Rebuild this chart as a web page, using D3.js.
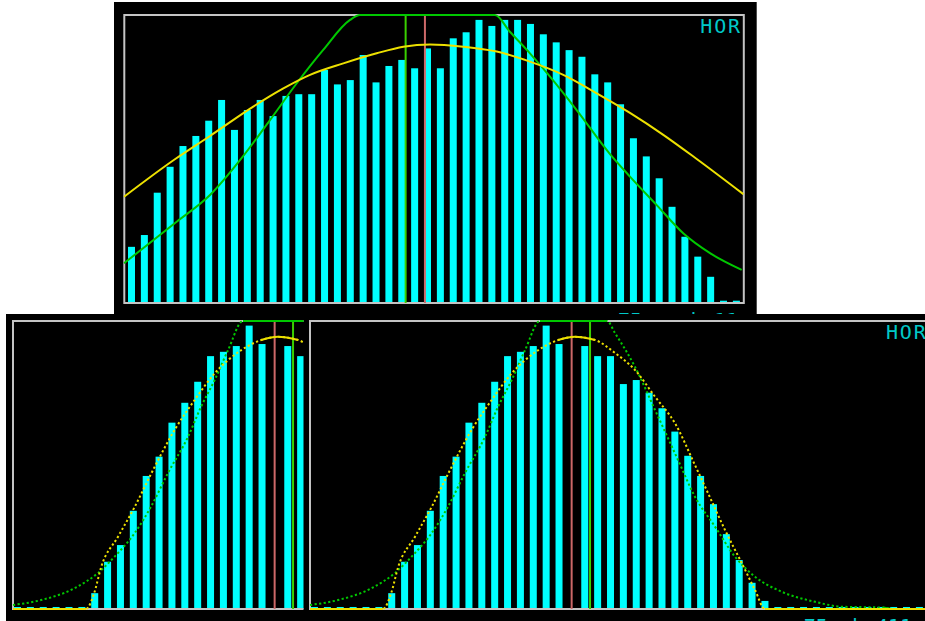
<!DOCTYPE html>
<html><head><meta charset="utf-8">
<script src="https://cdn.jsdelivr.net/npm/d3@7"></script>
<style>html,body{margin:0;padding:0;background:#fff;overflow:hidden}</style>
</head><body><svg id="c" width="925" height="621"></svg>
<script>
// ---------- data ----------
const yDomain = [0, 100];
const axisLabel = "HOR";
const topFooter = "75 mm k 11";
const bottomFooter = "75 ak 411";

const topBars = [19.5, 23.6, 38.3, 47.3, 54.5, 58.0, 63.3, 70.5, 60.1, 67.0, 70.5, 64.9,
  71.9, 72.5, 72.5, 80.9, 75.9, 77.4, 86.1, 76.6, 82.3, 84.4, 81.5, 88.4,
  81.5, 91.9, 94.0, 98.3, 96.2, 98.3, 98.3, 96.9, 93.3, 90.5, 87.8, 85.5,
  79.4, 76.6, 69.0, 57.2, 50.9, 43.3, 33.4, 23.0, 16.1, 9.1, 0.8, 0.8];

const bottomBars = [0.7, 0.7, 0.7, 0.7, 0.7, 0.7, 5.5, 16.4, 22.2, 34.1, 46.2, 52.9,
  64.7, 71.6, 78.9, 87.8, 89.3, 91.3, 98.4, 92.0, 0, 91.3, 87.8, 87.8,
  78.1, 79.5, 75.1, 69.7, 61.6, 53.2, 46.2, 36.4, 26.0, 17.0, 9.1, 2.8,
  0.7, 0.7, 0.7, 0.7, 0.7, 0.7, 0.7, 0.7, 0.7, 0.7, 0.7, 0.7];

const topYellowBins = [-0.58, 3.40, 6.10, 9.46, 11.80, 13.87, 16.46, 19.05, 21.12, 23.2,
  25.78, 28.38, 30.96, 33.55, 36.15, 38.73, 41.32, 43.92, 47.54];
const topYellowVals = [36.9, 50.0, 58.0, 68.2, 74.5, 79.2, 83.2, 86.7, 89.0, 89.8,
  89.0, 87.3, 83.8, 79.2, 72.8, 66.0, 58.4, 50.0, 37.8];

const topGreenBins = [-0.58, 3.51, 6.10, 8.66, 10.76, 12.84, 14.88, 16.98, 17.75, 20.5,
  23.0, 25.5, 28.24, 29.4, 30.96, 32.52, 34.59, 37.18, 38.73, 40.81, 42.87, 44.95, 47.41];
const topGreenVals = [13.8, 28.2, 37.5, 50.9, 63.5, 76.3, 87.8, 98.3, 100.5, 110,
  113, 110, 100.5, 94.2, 86.7, 78.6, 67.0, 51.7, 43.9, 34.0, 24.2, 17.3, 11.5];

const bottomYellowBins = [-0.35, 5.32, 5.95, 6.51, 7.81, 9.11, 10.40, 12.21, 13.77, 15.32,
  17.39, 18.94, 20.24, 21.80, 23.35, 24.90, 26.46, 28.01, 29.56, 30.57, 31.9, 33.19,
  34.23, 35.0, 47.6];
const bottomYellowVals = [0, 0, 5.4, 14.7, 25.1, 35.5, 47.1, 62.2, 72.6, 81.8,
  89.9, 93.4, 94.5, 93.4, 88.9, 83.0, 73.7, 64.5, 50.0, 40.3, 27.4, 16.0,
  6.6, 0, 0];

const bottomGreenBins = [-0.35, 1.83, 4.47, 6.25, 7.55, 9.11, 10.37, 11.69, 13.25, 14.26,
  15.32, 16.36, 17.52, 19.0, 20.4, 21.8, 22.73, 23.35, 24.90, 26.46, 28.25, 29.56,
  31.12, 32.67, 34.23, 36.3, 38.9, 40.96, 44.17, 44.9, 47.6];
const bottomGreenVals = [1.4, 3.1, 7.3, 12.5, 18.2, 26.4, 35.5, 47.2, 59.8, 70.2,
  79.5, 89.9, 100.3, 110, 113, 110, 100.5, 95.8, 84.1, 69.1, 51.7, 39.0,
  28.6, 18.2, 11.2, 6.0, 2.5, 0.8, 0.5, 0, 0];

// marker positions (in bin units): [green line, red line]
const topMarkerBins = [21.3, 22.8];
const bottomMarkerBins = [21.41, 19.98];

// ---------- layout ----------
const STEP = 12.87, BW = 7, W = 619.5, H = 288;
const svg = d3.select("#c");
svg.append("rect").attr("width", 925).attr("height", 621).attr("fill", "#fff");
const defs = svg.append("defs");

// black screenshot panels
svg.append("rect").attr("x", 114).attr("y", 2).attr("width", 642.7).attr("height", 312).attr("fill", "#000");
svg.append("rect").attr("x", 6).attr("y", 314).attr("width", 919).attr("height", 307).attr("fill", "#000");

const pts = (bins, vals) => d3.zip(bins, vals).map(([b, v]) => ({b, v}));

function drawChart(o) {
  defs.append("clipPath").attr("id", o.id + "-clip").append("rect")
    .attr("x", o.clip[0]).attr("y", o.clip[1]).attr("width", o.clip[2]).attr("height", o.clip[3]);
  defs.append("clipPath").attr("id", o.id + "-plot").append("rect")
    .attr("x", o.fx - 1).attr("y", o.fy - 1.5).attr("width", W + 2).attr("height", H + 3);

  const g = svg.append("g").attr("clip-path", `url(#${o.id}-clip)`);
  const n = o.bars.length;
  const x0 = o.fx + o.barOff;
  const xb = d3.scaleBand().domain(d3.range(n))
    .range([x0, x0 + (n - 1) * STEP + BW]).paddingInner(1 - BW / STEP).paddingOuter(0);
  const y = d3.scaleLinear().domain(yDomain).range([o.fy + H, o.fy]).clamp(true);
  const xc = d3.scaleLinear().domain([0, n - 1])
    .range([xb(0) + xb.bandwidth() / 2, xb(n - 1) + xb.bandwidth() / 2]);

  g.append("g").selectAll("rect").data(o.bars).join("rect")
    .attr("x", (d, i) => xb(i)).attr("y", d => y(d))
    .attr("width", xb.bandwidth()).attr("height", d => y(0) - y(d))
    .attr("fill", "#00ffff");

  g.append("rect").attr("x", o.fx).attr("y", o.fy).attr("width", W).attr("height", H)
    .attr("fill", "none").attr("stroke", "#c4c4c4").attr("stroke-width", 2);

  const [gm, rm] = o.markers;
  g.append("line").attr("x1", xc(gm)).attr("x2", xc(gm)).attr("y1", y(yDomain[1])).attr("y2", y(0))
    .attr("stroke", "#3ad000").attr("stroke-width", 2);
  g.append("line").attr("x1", xc(rm)).attr("x2", xc(rm)).attr("y1", y(yDomain[1])).attr("y2", y(0))
    .attr("stroke", "#cc6868").attr("stroke-width", 2);

  const pg = g.append("g").attr("clip-path", `url(#${o.id}-plot)`);
  const line = d3.line().x(d => xc(d.b)).y(d => y(d.v)).curve(d3.curveMonotoneX);

  const curves = [
    {data: o.green, color: "#00c800", solid: d => d.v >= 100 || d.v <= 0.5},
    {data: o.yellow, color: "#ece000", solid: d => d.v <= 0 || d.v >= 93}
  ];
  curves.forEach(c => {
    if (!o.dotted) {
      pg.append("path").attr("d", line(c.data)).attr("fill", "none")
        .attr("stroke", c.color).attr("stroke-width", 2);
    } else {
      pg.append("path").attr("d", line(c.data)).attr("fill", "none")
        .attr("stroke", c.color).attr("stroke-width", 2).attr("stroke-dasharray", "2.2,2.4");
      pg.append("path").attr("d", line.defined(c.solid)(c.data)).attr("fill", "none")
        .attr("stroke", c.color).attr("stroke-width", 2);
      line.defined(() => true);
    }
  });

  if (o.labels) {
    g.append("text").attr("x", o.fx + 576).attr("y", o.fy + 17.6)
      .attr("font-family", "DejaVu Sans Mono").attr("font-size", 20).attr("letter-spacing", 1.8)
      .attr("fill", "#00c8c8").text(axisLabel);
    g.append("text").attr("x", o.fx + 493.7).attr("y", o.fy + H + 23.6)
      .attr("font-family", "DejaVu Sans Mono").attr("font-size", 20)
      .attr("fill", "#00c8c8").text(o.footer);
  }
}

drawChart({id: "top", fx: 124.3, fy: 15, barOff: 3.7, bars: topBars,
  yellow: pts(topYellowBins, topYellowVals), green: pts(topGreenBins, topGreenVals),
  markers: topMarkerBins, dotted: false, footer: topFooter, labels: true,
  clip: [114, 2, 642.7, 312]});

const bottomYellow = pts(bottomYellowBins, bottomYellowVals);
const bottomGreen = pts(bottomGreenBins, bottomGreenVals);

// left: cropped copy of the same screen (its labels fall outside the crop)
drawChart({id: "bl", fx: 13, fy: 321, barOff: 1, bars: bottomBars,
  yellow: bottomYellow, green: bottomGreen,
  markers: bottomMarkerBins, dotted: true, footer: bottomFooter, labels: false,
  clip: [6, 314, 297.5, 307]});

drawChart({id: "br", fx: 310, fy: 321, barOff: 1, bars: bottomBars,
  yellow: bottomYellow, green: bottomGreen,
  markers: bottomMarkerBins, dotted: true, footer: bottomFooter, labels: true,
  clip: [305, 314, 620, 307]});
</script></body></html>
